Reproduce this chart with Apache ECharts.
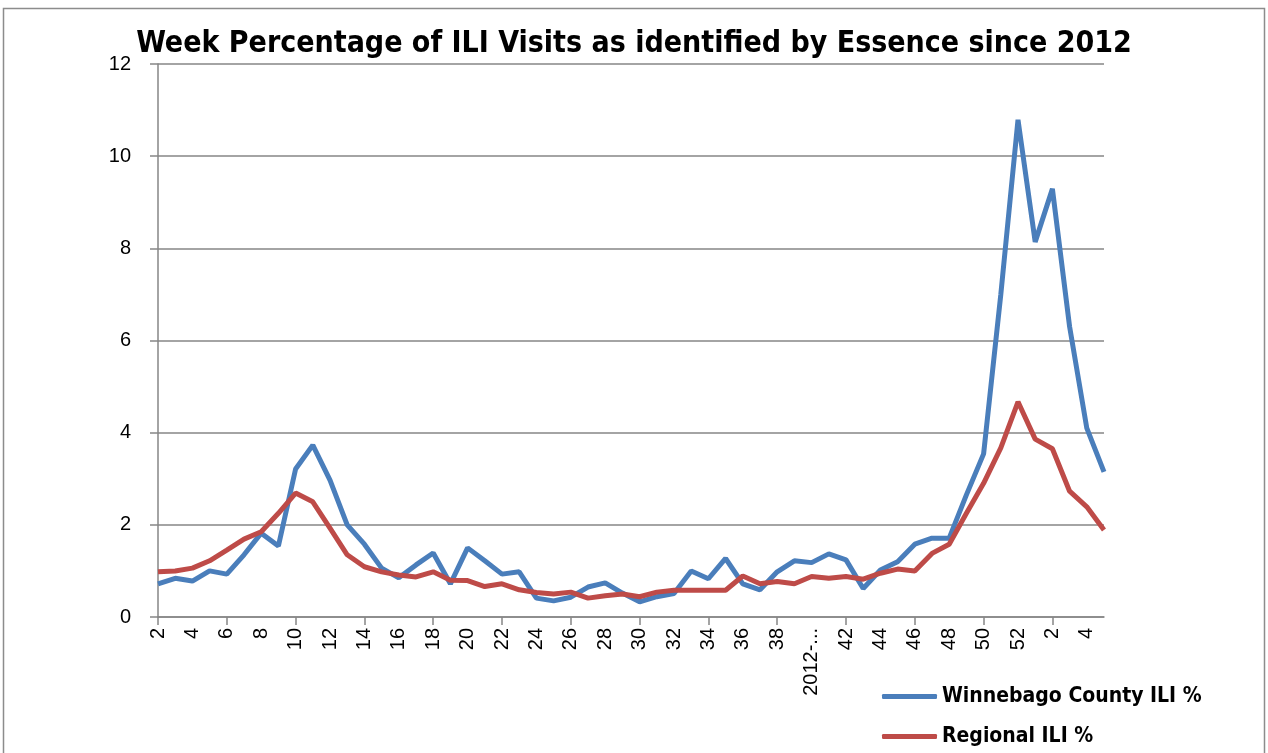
<!DOCTYPE html>
<html>
<head>
<meta charset="utf-8">
<title>Week Percentage of ILI Visits</title>
<script src="https://cdn.jsdelivr.net/npm/echarts/dist/echarts.min.js"></script>
<style>
  html, body { margin: 0; padding: 0; background: #fff; }
  #chart { width: 1268px; height: 753px; }
</style>
</head>
<body>
<div id="chart"></div>
<script>
// week labels: 2012 weeks 2..52, then 2013 weeks 1..5
const weeks = [
  '2', '3', '4', '5', '6', '7', '8', '9', '10', '11', '12', '13', '14', '15', '16', '17',
  '18', '19', '20', '21', '22', '23', '24', '25', '26', '27', '28', '29', '30', '31', '32',
  '33', '34', '35', '36', '37', '38', '39', '2012-40', '41', '42', '43', '44', '45', '46',
  '47', '48', '49', '50', '51', '52', '1', '2', '3', '4', '5'
];

const winnebago = [
  0.72, 0.84, 0.78, 1.0, 0.93, 1.35, 1.82, 1.54, 3.21, 3.73, 2.97, 2.0, 1.58, 1.06, 0.85, 1.13,
  1.39, 0.72, 1.5, 1.22, 0.93, 0.98, 0.41, 0.35, 0.43, 0.65, 0.74, 0.52, 0.33, 0.44, 0.51,
  1.0, 0.83, 1.27, 0.72, 0.59, 0.98, 1.22, 1.18, 1.37, 1.24, 0.62, 1.02, 1.2, 1.58,
  1.71, 1.71, 2.65, 3.54, 7.0, 10.79, 8.14, 9.29, 6.3, 4.1, 3.15
];

const regional = [
  0.98, 1.0, 1.06, 1.22, 1.45, 1.69, 1.85, 2.25, 2.69, 2.5, 1.93, 1.35, 1.09, 0.98, 0.91, 0.87,
  0.98, 0.8, 0.79, 0.66, 0.72, 0.59, 0.53, 0.5, 0.54, 0.41, 0.46, 0.5, 0.44, 0.54, 0.58,
  0.58, 0.58, 0.58, 0.89, 0.72, 0.77, 0.72, 0.88, 0.84, 0.88, 0.82, 0.95, 1.04, 1.0,
  1.38, 1.58, 2.25, 2.9, 3.67, 4.67, 3.86, 3.65, 2.73, 2.39, 1.89
];

const yTicks = [0, 2, 4, 6, 8, 10, 12];

const chart = echarts.init(document.getElementById('chart'));

const font = "'Liberation Sans Narrow', 'DejaVu Sans Condensed', 'Liberation Sans', sans-serif";
const labelFont = "'Liberation Sans', Arial, sans-serif";

chart.setOption({
  animation: false,
  backgroundColor: '#fff',
  graphic: [{
    type: 'rect',
    shape: { x: 3.5, y: 8.5, width: 1261, height: 760 },
    style: { fill: 'none', stroke: '#8c8c8c', lineWidth: 1.5 }
  }],
  title: {
    text: 'Week Percentage of ILI Visits as identified by Essence since 2012',
    left: 'center',
    top: 24,
    textStyle: { fontFamily: font, fontWeight: 'bold', fontSize: 30, color: '#000' }
  },
  legend: {
    orient: 'vertical',
    left: 877,
    top: 681,
    icon: 'roundRect',
    itemWidth: 55,
    itemHeight: 5,
    itemGap: 19,
    textStyle: { fontFamily: font, fontWeight: 'bold', fontSize: 21, color: '#000', lineHeight: 20 },
    data: ['Winnebago County ILI %', 'Regional ILI %']
  },
  grid: { left: 158, right: 164, top: 64, bottom: 136 },
  xAxis: {
    type: 'category',
    data: weeks,
    boundaryGap: false,
    axisLine: { lineStyle: { color: '#868686', width: 1.5 } },
    axisTick: { interval: 3, length: 8, lineStyle: { color: '#868686', width: 1.5 } },
    axisLabel: {
      interval: 1,
      rotate: 90,
      margin: 11,
      fontFamily: labelFont,
      fontSize: 20,
      color: '#000',
      formatter: (v) => v.length > 4 ? v.slice(0, 5) + '...' : v
    },
    splitLine: { show: false }
  },
  yAxis: {
    type: 'value',
    min: yTicks[0],
    max: yTicks[yTicks.length - 1],
    interval: 2,
    axisLine: { show: true, lineStyle: { color: '#868686', width: 1.5 } },
    axisTick: { show: true, length: 8, lineStyle: { color: '#868686', width: 1.5 } },
    axisLabel: { fontFamily: labelFont, fontSize: 20, color: '#000', margin: 27 },
    splitLine: { lineStyle: { color: '#868686', width: 1.5 } }
  },
  series: [
    {
      name: 'Winnebago County ILI %',
      type: 'line',
      data: winnebago,
      symbol: 'none',
      itemStyle: { color: '#4a7ebb' },
      lineStyle: { color: '#4a7ebb', width: 5 }
    },
    {
      name: 'Regional ILI %',
      type: 'line',
      data: regional,
      symbol: 'none',
      itemStyle: { color: '#be4b48' },
      lineStyle: { color: '#be4b48', width: 5 }
    }
  ]
});
</script>
</body>
</html>
